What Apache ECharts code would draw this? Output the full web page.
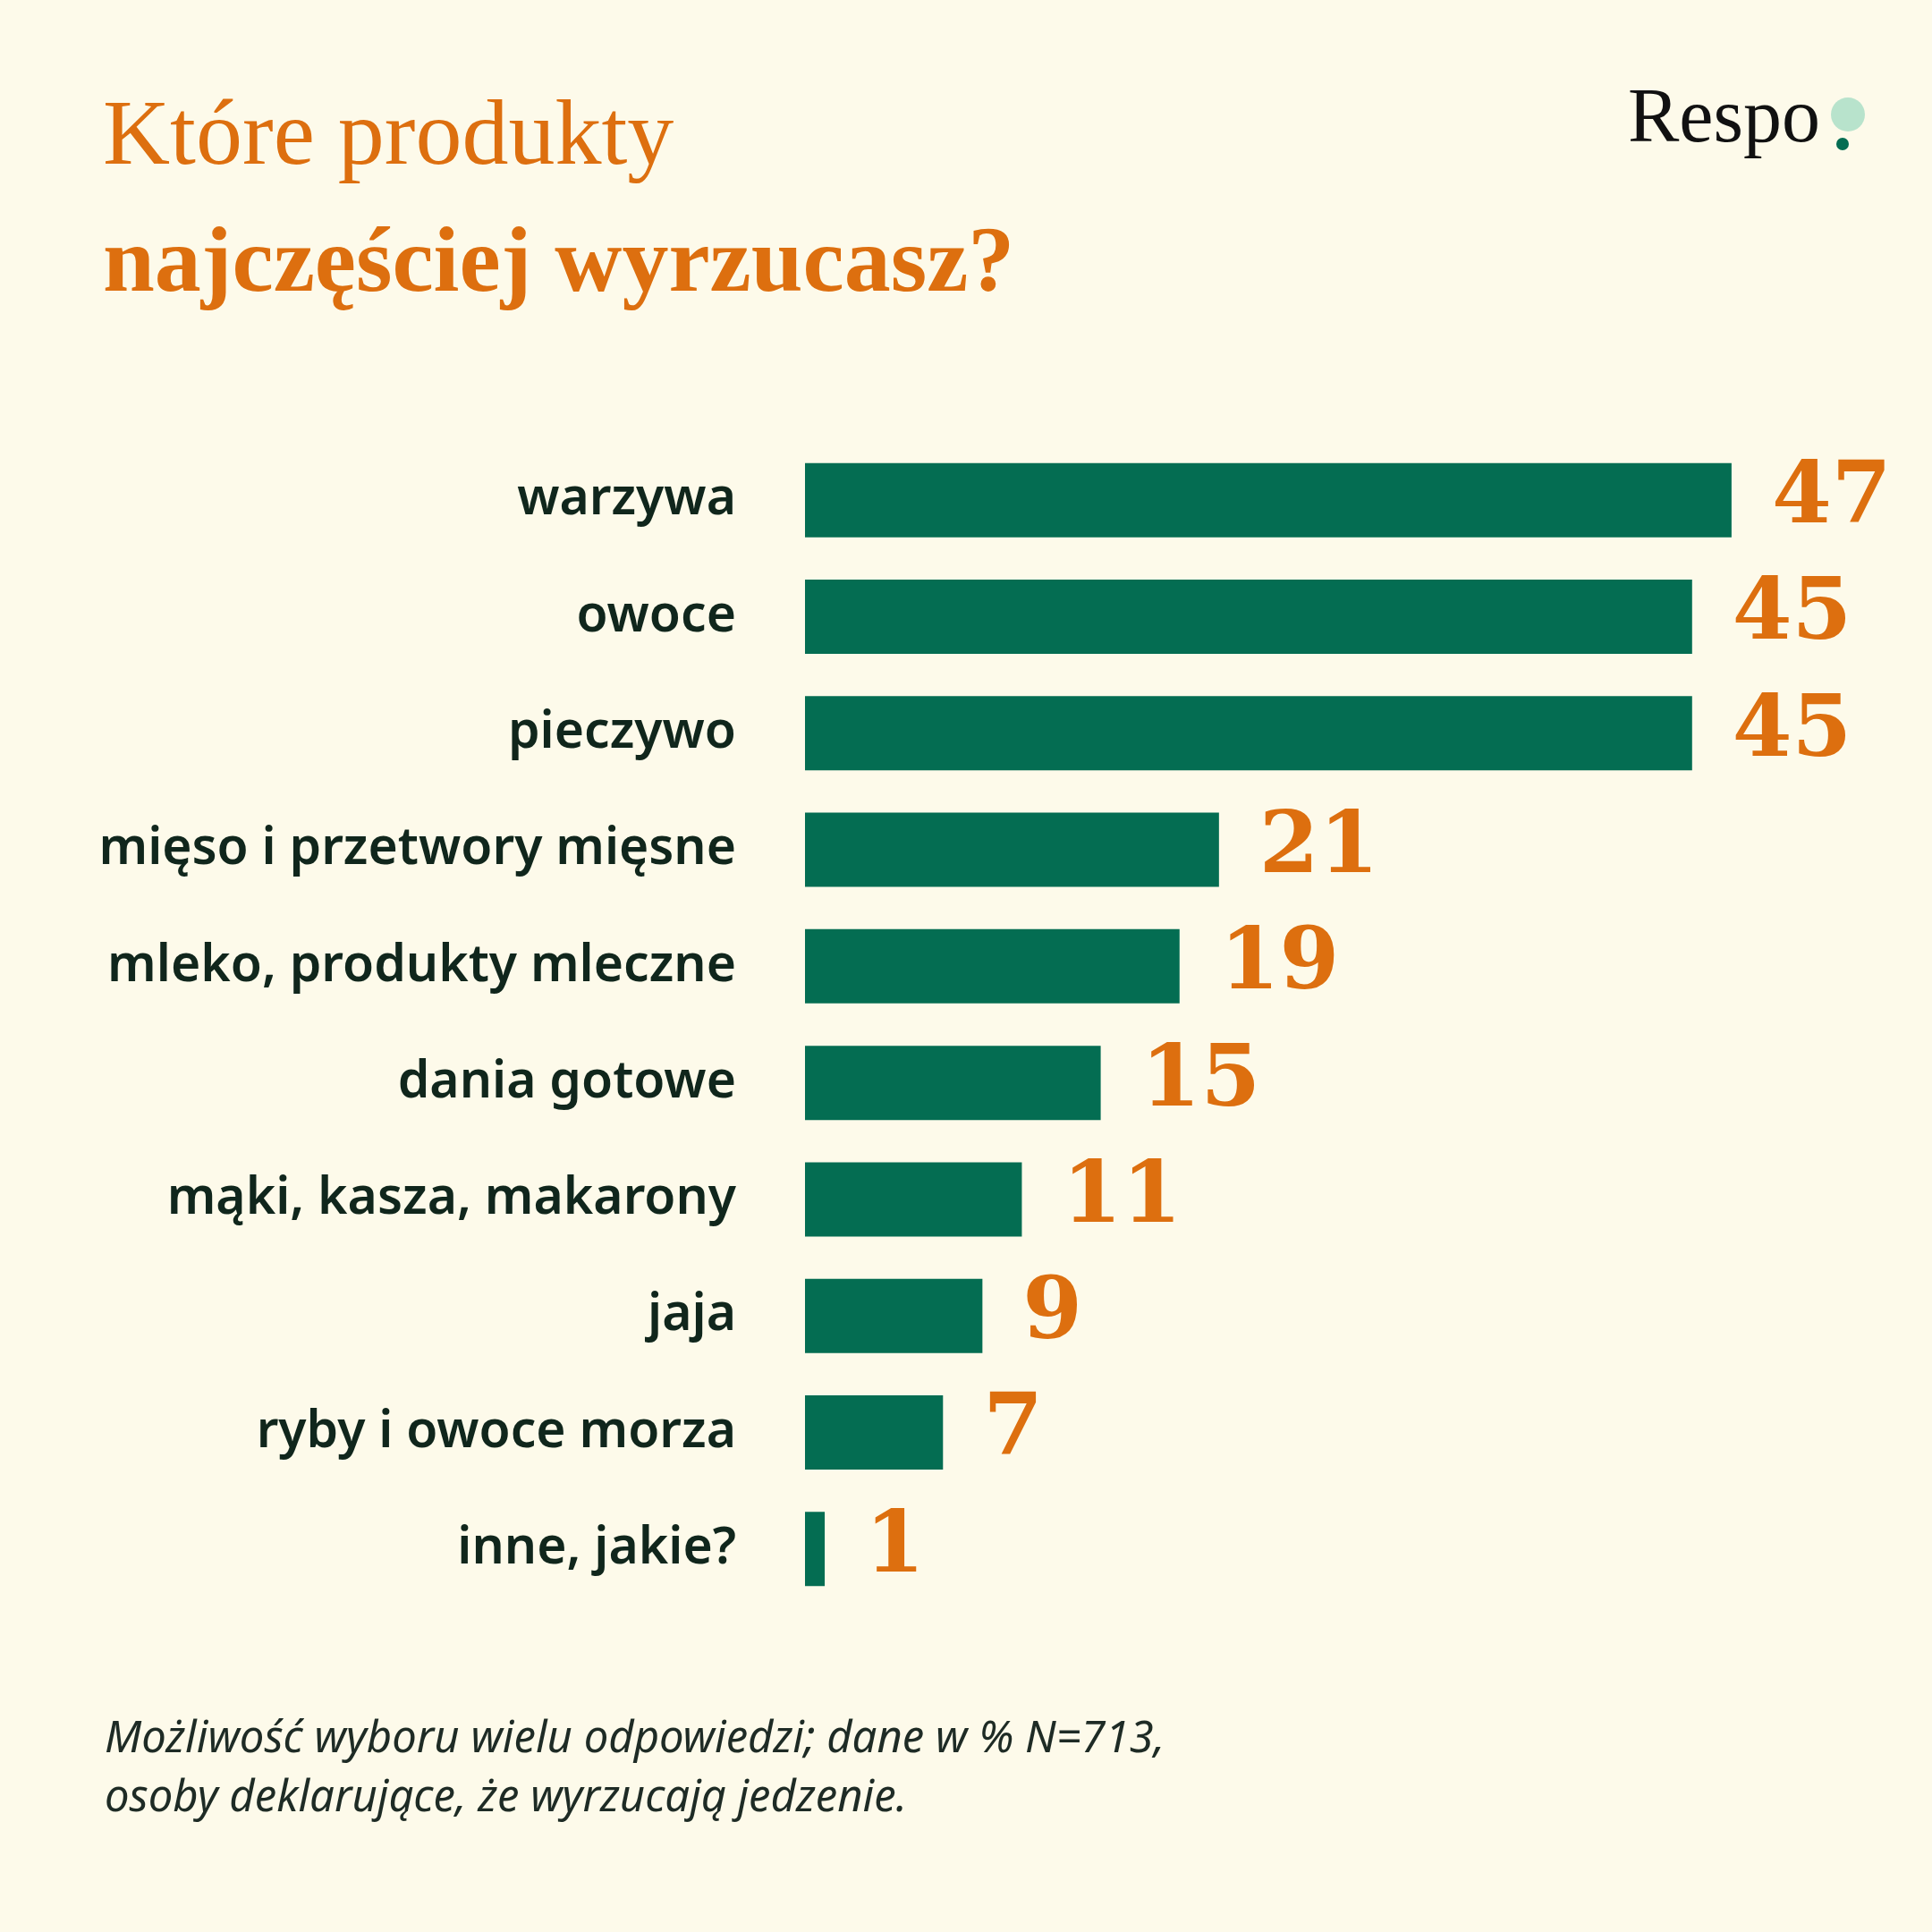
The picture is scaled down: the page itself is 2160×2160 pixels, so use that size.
<!DOCTYPE html>
<html><head><meta charset="utf-8">
<script src="https://cdn.jsdelivr.net/npm/echarts@6/dist/echarts.min.js"></script>
<style>html,body{margin:0;padding:0;background:#fdfaea}#c{width:2160px;height:2160px}</style>
</head><body><div id="c"></div>
<script>
const categories = ['warzywa','owoce','pieczywo','mięso i przetwory mięsne','mleko, produkty mleczne','dania gotowe','mąki, kasza, makarony','jaja','ryby i owoce morza','inne, jakie?'];
const values = [47,45,45,21,19,15,11,9,7,1];
const orange = '#dd6f0f';
const chart = echarts.init(document.getElementById('c'));
chart.setOption({
  backgroundColor:'#fdfaea',
  animation:false,
  graphic:[
    {type:'text',left:115,top:104,style:{text:'Które produkty',font:'normal 104px "Liberation Serif", serif',fill:orange}},
    {type:'text',left:115,top:246,style:{text:'najczęściej wyrzucasz?',font:'bold 104px "Liberation Serif", serif',fill:orange}},
    {type:'text',left:1820,top:92,style:{text:'Respo',font:'normal 86px "Liberation Serif", serif',fill:'#111'}},
    {type:'circle',shape:{cx:2066,cy:128,r:19},style:{fill:'#b8e3cc'}},
    {type:'circle',shape:{cx:2060,cy:161,r:7},style:{fill:'#046d52'}},
    {type:'text',left:117,top:1912,style:{text:'Możliwość wyboru wielu odpowiedzi; dane w % N=713,\nosoby deklarujące, że wyrzucają jedzenie.',font:'italic 49px "Noto Sans", sans-serif',fill:'#1e2b25',lineHeight:66}}
  ],
  grid:{left:900,top:494,width:1102,height:1303},
  xAxis:{type:'value',min:0,max:50,show:false},
  yAxis:{type:'category',data:categories,inverse:true,axisLine:{show:false},axisTick:{show:false},
    axisLabel:{margin:77,fontSize:57,fontWeight:600,color:'#10261c',fontFamily:'"Noto Sans", sans-serif'}},
  series:[{type:'bar',data:values,barWidth:83,itemStyle:{color:'#046d52'},
    label:{show:true,position:'right',distance:45,fontSize:96,fontWeight:'bold',color:orange,fontFamily:'"DejaVu Serif", serif'}}]
});
</script></body></html>
